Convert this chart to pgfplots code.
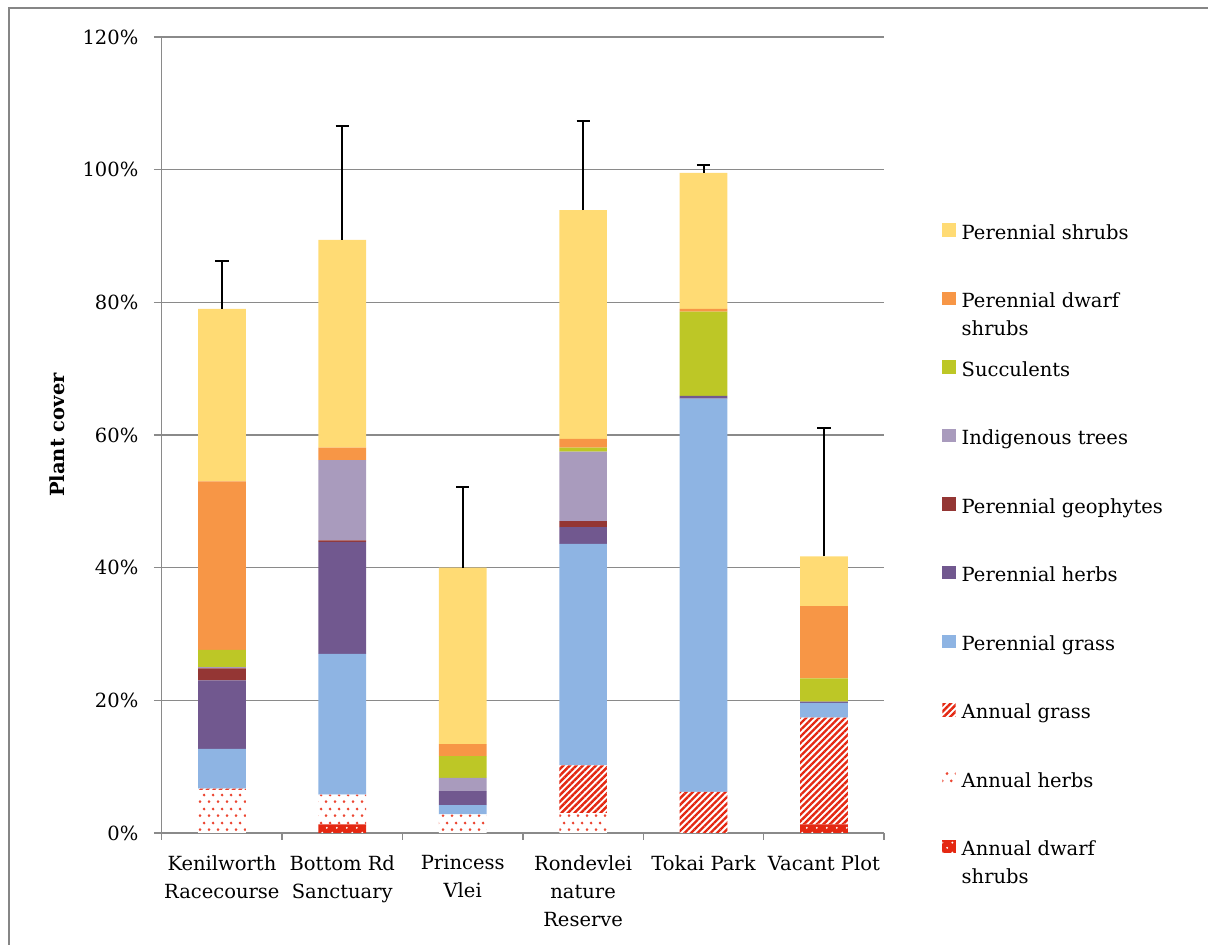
\documentclass[border=0pt]{standalone}
\usepackage{fontspec}
\setmainfont{DejaVu Serif}
\usepackage{pgfplots}
\pgfplotsset{compat=1.18}
\usepackage{pgfplotstable}
\usetikzlibrary{patterns.meta}

\definecolor{shrubY}{RGB}{255,219,116}
\definecolor{dwarfO}{RGB}{247,150,70}
\definecolor{succG}{RGB}{189,199,38}
\definecolor{treeL}{RGB}{169,155,189}
\definecolor{geoR}{RGB}{148,54,52}
\definecolor{herbP}{RGB}{113,88,143}
\definecolor{grassB}{RGB}{142,180,227}
\definecolor{annRed}{RGB}{228,40,18}
\definecolor{dotRed}{RGB}{236,70,50}
\definecolor{gridGray}{RGB}{138,138,138}
\definecolor{frameGray}{RGB}{134,134,134}

% staggered dot fills for the annual groups
\tikzdeclarepattern{
  name=staggerdots, type=uncolored,
  bounding box={(0pt,0pt) and (9pt,14pt)},
  tile size={(9pt,14pt)},
  code={\fill (2.25pt,3.5pt) circle (1.6pt); \fill (6.75pt,10.5pt) circle (1.6pt);}
}
\tikzdeclarepattern{
  name=sparsedots, type=uncolored,
  bounding box={(0pt,0pt) and (10pt,10pt)},
  tile size={(10pt,10pt)},
  code={\fill (2.5pt,2.5pt) circle (1.1pt); \fill (7.5pt,7.5pt) circle (1.1pt);}
}

% plant cover (%) per functional group; err = upper error of the total
\pgfplotstableread{
x ads ah  ag   pg   ph   geo it   s    pds  ps   err
0 0   6.5 0.2  6.0  10.3 1.8 0.2  2.6  25.4 26.0 7.2
1 1.3 4.5 0    21.2 16.9 0.2 12.1 0    1.9  31.3 17.2
2 0   2.8 0    1.4  2.1  0   2.0  3.3  1.8  26.6 12.1
3 0   3.0 7.2  33.4 2.5  0.9 10.5 0.6  1.3  34.5 13.4
4 0   0   6.2  59.3 0.4  0   0    12.7 0.4  20.5 1.2
5 1.3 0   16.1 2.2  0.2  0   0    3.5  10.9 7.5  19.3
}\cover

\newcommand\legtxt[1]{\rule[-4pt]{0pt}{20pt}#1}
\newcommand\legtwo[2]{\rule[-4pt]{0pt}{20pt}\smash{\parbox[t]{6cm}{#1\\#2}}}

\begin{document}
\fontsize{19.5}{28}\selectfont
\begin{tikzpicture}[x=1pt,y=1pt,font=\fontsize{19.5}{28}\selectfont]
\useasboundingbox (0,0) rectangle (1208,945);
\draw[frameGray, line width=1.3pt] (9,0) -- (9,937) -- (1208,937);
\begin{axis}[
  at={(161.7pt,112pt)}, anchor=south west,
  width=722.4pt, height=796pt, scale only axis,
  ybar stacked, bar width=47.7pt,
  xmin=-0.5, xmax=5.5, ymin=0, ymax=120,
  xtick={0,...,5},
  xticklabels={{Kenilworth\\Racecourse},{Bottom Rd\\Sanctuary},{Princess\\Vlei},{Rondevlei\\nature\\Reserve},{Tokai Park},{Vacant Plot}},
  xticklabel style={align=center, yshift=-8pt},
  minor xtick={-0.5,0.5,...,5.5},
  ytick={0,20,...,120},
  yticklabels={0\%,20\%,40\%,60\%,80\%,100\%,120\%},
  yticklabel style={xshift=-9pt},
  tick align=outside,
  major tick length=7.7pt, minor tick length=7pt,
  major x tick style={draw=none},
  minor x tick style={draw=gridGray, line width=1.3pt},
  ytick style={draw=gridGray, line width=1.3pt},
  ymajorgrids,
  major grid style={draw=gridGray, line width=1.3pt},
  axis x line*=bottom, axis y line*=left,
  axis line style={draw=gridGray, line width=1.3pt},
  ylabel={\bfseries Plant cover},
  ylabel style={at={(axis description cs:-0.145,0.5)}, anchor=center},
  reverse legend,
  legend style={at={(1.0806,0.766)}, anchor=north west, draw=none, fill=none,
    inner sep=0pt, outer sep=0pt, row sep=49.6pt, column sep=6pt,
    cells={anchor=base west}, nodes={inner sep=0pt}},
  legend image code/.code={\path[#1,draw=none] (0pt,2.5pt) rectangle (13.4pt,15.9pt);},
]
\addplot[draw=none, fill=annRed, postaction={pattern=sparsedots, pattern color=white}]
  table[x=x,y=ads]{\cover};
\addlegendentry{\legtwo{Annual dwarf}{shrubs}}
\addplot[draw=none, fill=white, postaction={pattern=staggerdots, pattern color=dotRed}]
  table[x=x,y=ah]{\cover};
\addlegendentry{\legtxt{Annual herbs}}
\addplot[draw=none, fill=white, postaction={pattern={Lines[angle=45,distance=4.6pt,line width=2.4pt]}, pattern color=annRed}]
  table[x=x,y=ag]{\cover};
\addlegendentry{\legtxt{Annual grass}}
\addplot[draw=none, fill=grassB] table[x=x,y=pg]{\cover};
\addlegendentry{\legtxt{Perennial grass}}
\addplot[draw=none, fill=herbP] table[x=x,y=ph]{\cover};
\addlegendentry{\legtxt{Perennial herbs}}
\addplot[draw=none, fill=geoR] table[x=x,y=geo]{\cover};
\addlegendentry{\legtxt{Perennial geophytes}}
\addplot[draw=none, fill=treeL] table[x=x,y=it]{\cover};
\addlegendentry{\legtxt{Indigenous trees}}
\addplot[draw=none, fill=succG] table[x=x,y=s]{\cover};
\addlegendentry{\legtxt{Succulents}}
\addplot[draw=none, fill=dwarfO] table[x=x,y=pds]{\cover};
\addlegendentry{\legtwo{Perennial dwarf}{shrubs}}
\addplot[draw=none, fill=shrubY,
  error bars/.cd, y dir=plus, y explicit,
  error bar style={draw=black, line width=2pt},
  error mark options={rotate=90, draw=black, mark size=6.6pt, line width=2pt}]
  table[x=x,y=ps,y error=err]{\cover};
\addlegendentry{\legtxt{Perennial shrubs}}
\end{axis}
\end{tikzpicture}
\end{document}
